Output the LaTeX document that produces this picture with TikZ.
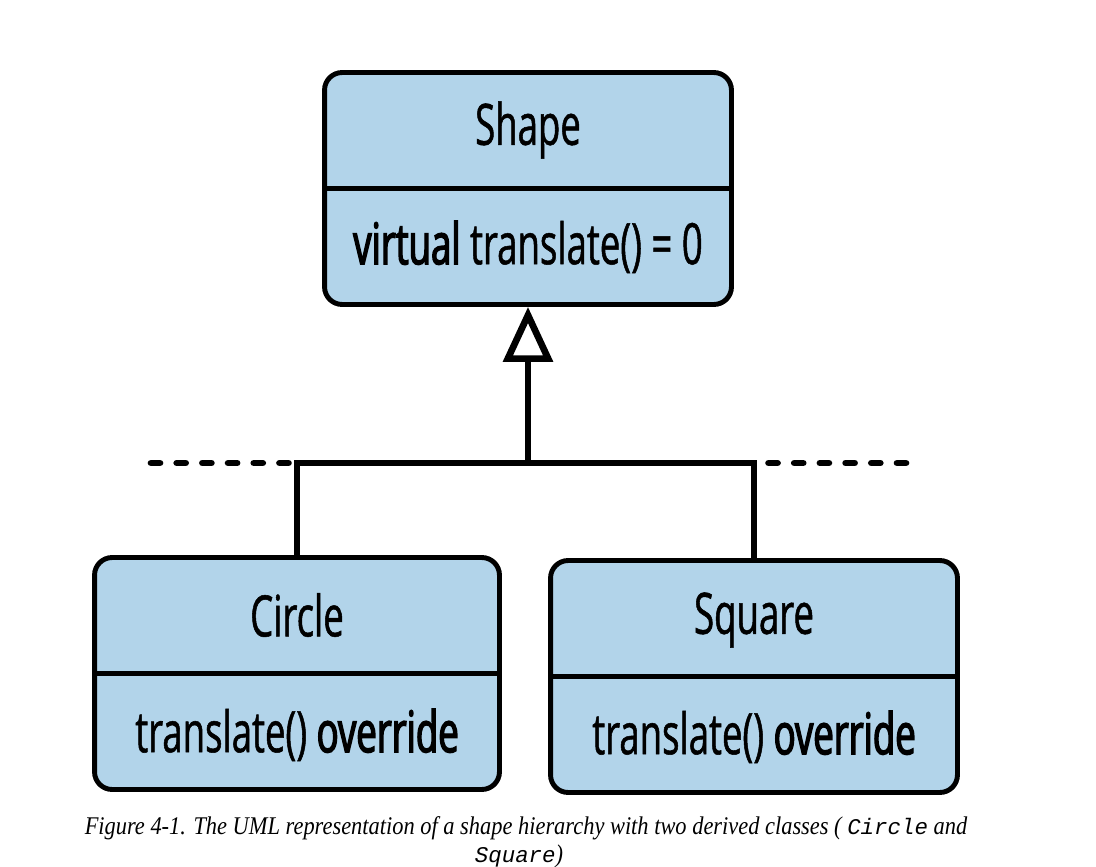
\documentclass[tikz,border=0pt]{standalone}
\usepackage{fontspec}
\setmainfont{Liberation Serif}
\setmonofont{Liberation Mono}
\newfontfamily\boxfont[FakeStretch=0.64, FakeBold=0.9]{Open Sans}
\newfontfamily\boxfontb[FakeStretch=0.64, FakeBold=2.4]{Open Sans}
\newfontfamily\capfont[FakeStretch=0.88, ItalicFeatures={FakeStretch=0.88}]{Liberation Serif}
\newfontfamily\capmono[Scale=0.88]{Liberation Mono}
\usetikzlibrary{arrows.meta}
\definecolor{boxblue}{RGB}{178,212,234}
\begin{document}
\begin{tikzpicture}[x=0.02cm,y=-0.02cm,
  classbox/.style={draw=black, fill=boxblue, line width=2.8pt, rounded corners=10pt, inner sep=0pt},
  divider/.style={line width=2.8pt},
  titletext/.style={font=\boxfont\fontsize{32.5}{36}\selectfont, inner sep=0pt},
  bodytext/.style={font=\boxfont\fontsize{32.5}{36}\selectfont, inner sep=0pt},
  conn/.style={line width=3.8pt},
  dashconn/.style={line width=3.8pt, line cap=round, dash pattern=on 0.18cm off 0.334cm},
  captext/.style={font=\capfont\itshape\fontsize{14.5}{17}\selectfont, inner sep=0pt}]
\useasboundingbox (0,0) rectangle (1096,866);

% class boxes
\node[classbox, minimum width=8.14cm, minimum height=4.64cm] (shape) at (528,188.5) {};
\node[classbox, minimum width=8.1cm, minimum height=4.64cm] (circle) at (297,673.5) {};
\node[classbox, minimum width=8.14cm, minimum height=4.64cm] (square) at (754,676.5) {};

\draw[divider] (shape.west) -- (shape.east);
\draw[divider] (circle.west) -- (circle.east);
\draw[divider] (square.west) -- (square.east);

% texts
\node[titletext] (shapeT) at (528,130) {Shape};
\node[bodytext] (shapeB) at (528,247) {{\boxfontb virtual} translate() = 0};
\node[titletext] (circleT) at (297,615) {Circle};
\node[bodytext] (circleB) at (297,735) {translate() {\boxfontb override}};
\node[titletext] (squareT) at (754,620) {Square};
\node[bodytext] (squareB) at (754,737) {translate() {\boxfontb override}};

% connectors
\coordinate (j) at (528,463);
\coordinate (dl) at (151,463);
\coordinate (dr) at (906,463);
\draw[conn] (circle.north) |- (j) -| (square.north);
\draw[conn, -{Triangle[open, length=1.1cm, width=0.98cm]}] (j) -- (shape.south);
\draw[dashconn] (dl) -- (circle.north |- j);
\draw[dashconn] (dr) -- (square.north |- j);

% caption
\node[captext] (cap1) at (526,828) {Figure 4-1. The UML representation of a shape hierarchy with two derived classes ( {\capmono\itshape Circle} and};
\node[captext] (cap2) at (519,856) {{\capmono\itshape Square})};
\end{tikzpicture}
\end{document}
